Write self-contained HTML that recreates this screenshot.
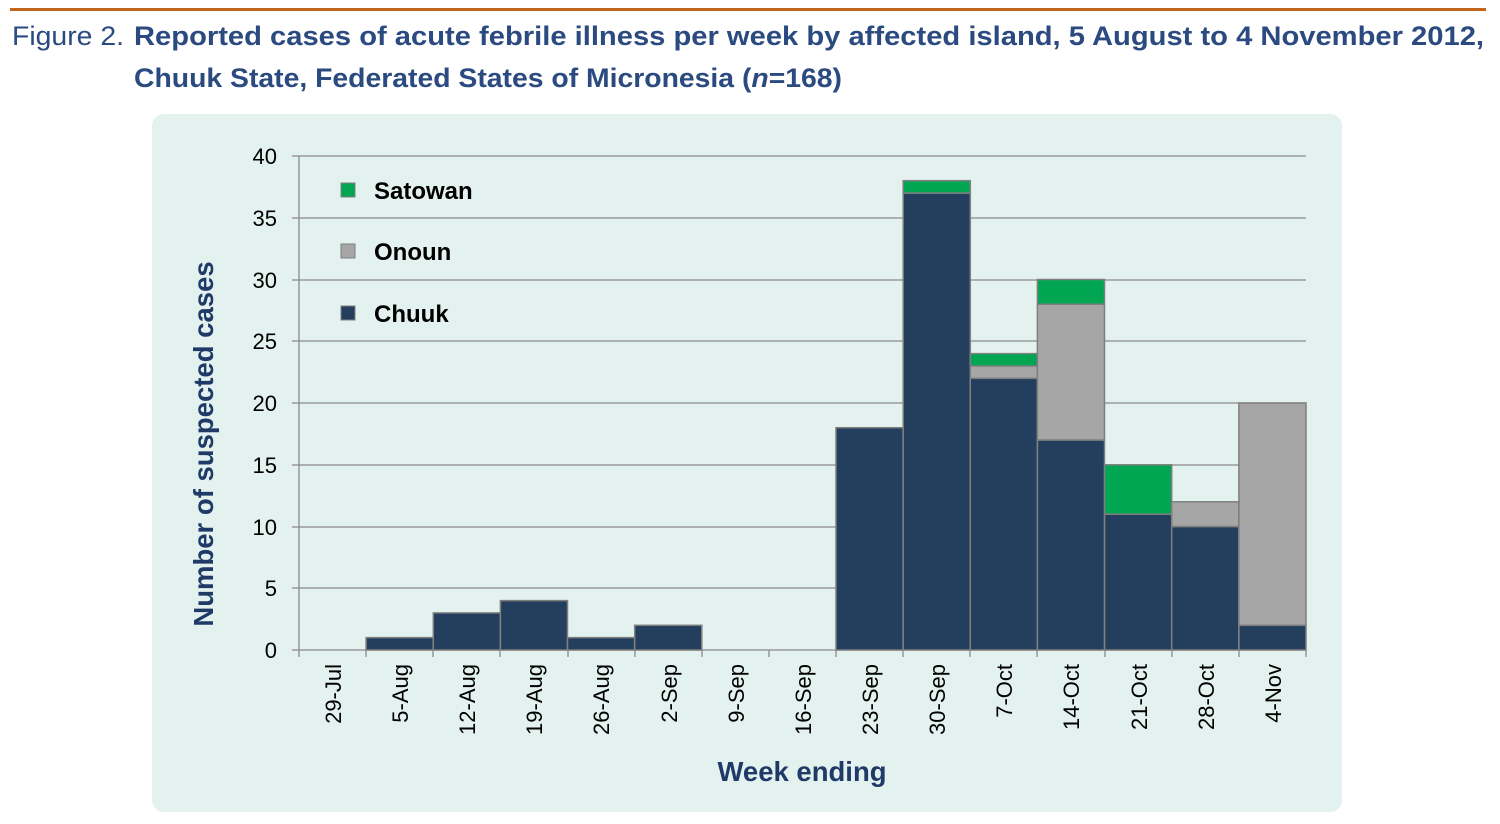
<!DOCTYPE html>
<html><head><meta charset="utf-8"><style>
body{margin:0;width:1500px;height:819px;background:#fff;overflow:hidden;font-family:"Liberation Sans",sans-serif;}
</style></head><body>
<svg width="1500" height="819" xmlns="http://www.w3.org/2000/svg" font-family="Liberation Sans, sans-serif">
<rect x="10" y="8" width="1476" height="3" fill="#c2661e"/>
<text x="12" y="45" font-size="27" fill="#2a4a80" textLength="112" lengthAdjust="spacingAndGlyphs">Figure 2.</text>
<text x="134" y="45" font-size="27" font-weight="bold" fill="#2a4a80" textLength="1350" lengthAdjust="spacingAndGlyphs">Reported cases of acute febrile illness per week by affected island, 5 August to 4 November 2012,</text>
<text x="134" y="87" font-size="27" font-weight="bold" fill="#2a4a80" textLength="708" lengthAdjust="spacingAndGlyphs">Chuuk State, Federated States of Micronesia (<tspan font-style="italic">n</tspan>=168)</text>
<rect x="152" y="114" width="1190" height="698" rx="12" fill="#e3f1ef"/>
<g stroke="#8a8a8a" stroke-width="1.3">
<line x1="292" y1="156" x2="1306" y2="156"/>
<line x1="292" y1="218" x2="1306" y2="218"/>
<line x1="292" y1="280" x2="1306" y2="280"/>
<line x1="292" y1="341" x2="1306" y2="341"/>
<line x1="292" y1="403" x2="1306" y2="403"/>
<line x1="292" y1="465" x2="1306" y2="465"/>
<line x1="292" y1="527" x2="1306" y2="527"/>
<line x1="292" y1="588" x2="1306" y2="588"/>
<line x1="292" y1="650" x2="1306" y2="650"/>
<line x1="299" y1="156" x2="299" y2="650"/>
</g>
<g font-size="22" fill="#000" text-anchor="end">
<text x="277" y="164">40</text><text x="277" y="226">35</text><text x="277" y="288">30</text>
<text x="277" y="349">25</text><text x="277" y="411">20</text><text x="277" y="473">15</text>
<text x="277" y="535">10</text><text x="277" y="596">5</text><text x="277" y="658">0</text>
</g>
<g stroke="#7f7f7f" stroke-width="1.5">
<rect x="366.1" y="637.6" width="67.1" height="12.4" fill="#243f5e"/>
<rect x="433.3" y="612.9" width="67.1" height="37.1" fill="#243f5e"/>
<rect x="500.4" y="600.6" width="67.1" height="49.4" fill="#243f5e"/>
<rect x="567.5" y="637.6" width="67.1" height="12.4" fill="#243f5e"/>
<rect x="634.7" y="625.3" width="67.1" height="24.7" fill="#243f5e"/>
<rect x="836.0" y="427.7" width="67.1" height="222.3" fill="#243f5e"/>
<rect x="903.2" y="193.1" width="67.1" height="456.9" fill="#243f5e"/>
<rect x="903.2" y="180.7" width="67.1" height="12.4" fill="#00a651"/>
<rect x="970.3" y="378.3" width="67.1" height="271.7" fill="#243f5e"/>
<rect x="970.3" y="365.9" width="67.1" height="12.4" fill="#a6a6a6"/>
<rect x="970.3" y="353.6" width="67.1" height="12.4" fill="#00a651"/>
<rect x="1037.4" y="440.0" width="67.1" height="210.0" fill="#243f5e"/>
<rect x="1037.4" y="304.2" width="67.1" height="135.8" fill="#a6a6a6"/>
<rect x="1037.4" y="279.5" width="67.1" height="24.7" fill="#00a651"/>
<rect x="1104.6" y="514.2" width="67.1" height="135.8" fill="#243f5e"/>
<rect x="1104.6" y="464.8" width="67.1" height="49.4" fill="#00a651"/>
<rect x="1171.7" y="526.5" width="67.1" height="123.5" fill="#243f5e"/>
<rect x="1171.7" y="501.8" width="67.1" height="24.7" fill="#a6a6a6"/>
<rect x="1238.9" y="625.3" width="67.1" height="24.7" fill="#243f5e"/>
<rect x="1238.9" y="403.0" width="67.1" height="222.3" fill="#a6a6a6"/>
</g>
<g stroke="#8a8a8a" stroke-width="1.3">
<line x1="299" y1="650" x2="299" y2="657"/><line x1="366" y1="650" x2="366" y2="657"/>
<line x1="433" y1="650" x2="433" y2="657"/><line x1="500" y1="650" x2="500" y2="657"/>
<line x1="568" y1="650" x2="568" y2="657"/><line x1="635" y1="650" x2="635" y2="657"/>
<line x1="702" y1="650" x2="702" y2="657"/><line x1="769" y1="650" x2="769" y2="657"/>
<line x1="836" y1="650" x2="836" y2="657"/><line x1="903" y1="650" x2="903" y2="657"/>
<line x1="970" y1="650" x2="970" y2="657"/><line x1="1037" y1="650" x2="1037" y2="657"/>
<line x1="1105" y1="650" x2="1105" y2="657"/><line x1="1172" y1="650" x2="1172" y2="657"/>
<line x1="1239" y1="650" x2="1239" y2="657"/><line x1="1306" y1="650" x2="1306" y2="657"/>
</g>
<g font-size="22" fill="#000" text-anchor="end">
<text transform="translate(341,664) rotate(-90)">29-Jul</text>
<text transform="translate(408,664) rotate(-90)">5-Aug</text>
<text transform="translate(475,664) rotate(-90)">12-Aug</text>
<text transform="translate(542,664) rotate(-90)">19-Aug</text>
<text transform="translate(609,664) rotate(-90)">26-Aug</text>
<text transform="translate(677,664) rotate(-90)">2-Sep</text>
<text transform="translate(744,664) rotate(-90)">9-Sep</text>
<text transform="translate(811,664) rotate(-90)">16-Sep</text>
<text transform="translate(878,664) rotate(-90)">23-Sep</text>
<text transform="translate(945,664) rotate(-90)">30-Sep</text>
<text transform="translate(1012,664) rotate(-90)">7-Oct</text>
<text transform="translate(1079,664) rotate(-90)">14-Oct</text>
<text transform="translate(1147,664) rotate(-90)">21-Oct</text>
<text transform="translate(1214,664) rotate(-90)">28-Oct</text>
<text transform="translate(1281,664) rotate(-90)">4-Nov</text>
</g>
<text x="802" y="781" font-size="27.5" font-weight="bold" fill="#1f3a66" text-anchor="middle">Week ending</text>
<text transform="translate(213,444) rotate(-90)" font-size="27.5" font-weight="bold" fill="#1f3a66" text-anchor="middle">Number of suspected cases</text>
<rect x="341" y="183" width="14" height="14" fill="#00a651" stroke="#7f7f7f"/>
<text x="374" y="199" font-size="24" font-weight="bold">Satowan</text>
<rect x="341" y="244" width="14" height="14" fill="#a6a6a6" stroke="#7f7f7f"/>
<text x="374" y="260" font-size="24" font-weight="bold">Onoun</text>
<rect x="341" y="306" width="14" height="14" fill="#243f5e" stroke="#7f7f7f"/>
<text x="374" y="322" font-size="24" font-weight="bold">Chuuk</text>
</svg>
</body></html>
